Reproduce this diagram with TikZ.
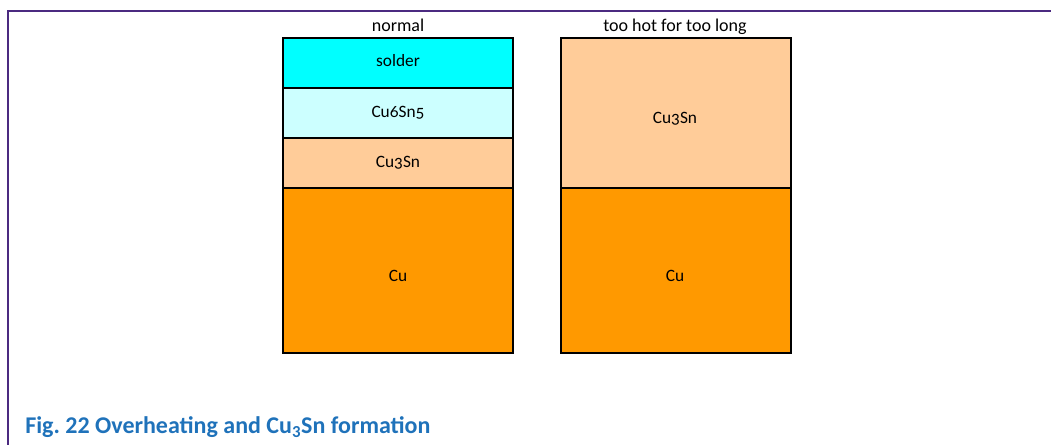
\documentclass[tikz,border=0pt]{standalone}
\usepackage{fontspec}
\setmainfont{Carlito}
\newfontfamily\lblfont[Numbers=OldStyle]{Carlito}
\definecolor{framepurple}{HTML}{4B2A80}
\definecolor{captionblue}{HTML}{1F72BA}
\definecolor{soldercol}{HTML}{00FFFF}
\definecolor{cusixcol}{HTML}{CCFFFF}
\definecolor{cuthreecol}{HTML}{FFCC99}
\definecolor{cucol}{HTML}{FF9900}
\tikzset{
  layerbox/.style={draw=black, line width=0.9pt},
  layerlabel/.style={inner sep=0pt, font=\lblfont\fontsize{13}{15}\selectfont},
  headlabel/.style={inner sep=0pt, anchor=base, font=\fontsize{13.5}{16}\selectfont},
}
\frenchspacing
\begin{document}
\begin{tikzpicture}[x=0.75pt,y=-0.75pt]
\useasboundingbox (0,0) rectangle (1051,445);
% frame lines
\coordinate (ftl) at (8,11);
\coordinate (ftr) at (1051,11);
\coordinate (fbl) at (8,445);
\draw[framepurple, line width=1pt] (fbl) -- (ftl) -- (ftr);
% left stack
\filldraw[layerbox, fill=soldercol] (283,38) rectangle (513,88);
\filldraw[layerbox, fill=cusixcol] (283,88) rectangle (513,138);
\filldraw[layerbox, fill=cuthreecol] (283,138) rectangle (513,188);
\filldraw[layerbox, fill=cucol] (283,188) rectangle (513,353);
% right stack
\filldraw[layerbox, fill=cuthreecol] (561,38) rectangle (791,188);
\filldraw[layerbox, fill=cucol] (561,188) rectangle (791,353);
% headings
\node[headlabel] (hnormal) at (398,31.5) {normal};
\node[headlabel] (hhot) at (675,31.5) {too hot for too long};
% layer labels
\node[layerlabel, anchor=base] (lsolder) at (398,67) {solder};
\node[layerlabel, anchor=base] (lcusix) at (398,118) {Cu6Sn5};
\node[layerlabel, anchor=base] (lcuthree) at (398,168) {Cu3Sn};
\node[layerlabel, anchor=base] (lcu) at (398,282) {Cu};
\node[layerlabel, anchor=base] (rcuthree) at (675,124) {Cu3Sn};
\node[layerlabel, anchor=base] (rcu) at (675,282) {Cu};
% caption
\node[anchor=base west, inner sep=0pt, text=captionblue, font=\bfseries\fontsize{18}{21}\selectfont] (caption) at (25,434) {Fig.\ 22 Overheating and Cu\textsubscript{3}Sn formation};
\end{tikzpicture}
\end{document}
